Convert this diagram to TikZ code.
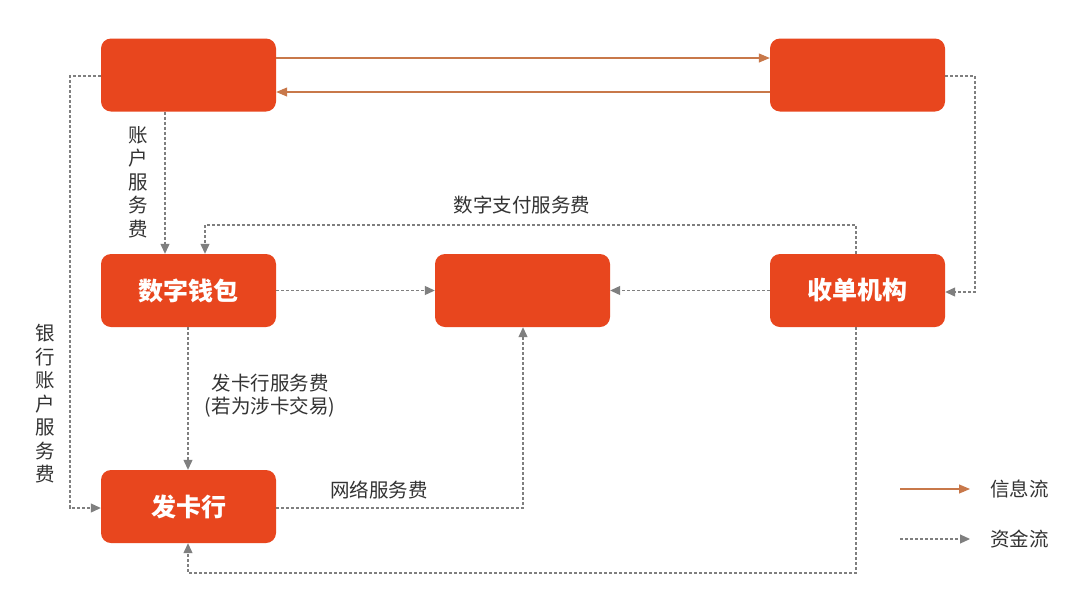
\documentclass[tikz,border=0pt]{standalone}
\usepackage{fontspec}
\setmainfont{Noto Sans CJK SC}
\usetikzlibrary{arrows.meta}
\definecolor{boxred}{HTML}{E8461E}
\definecolor{infoc}{HTML}{C8784A}
\definecolor{fundc}{HTML}{7F7F7F}
\definecolor{txtc}{HTML}{333333}
\begin{document}
\begin{tikzpicture}[x=1pt,y=-1pt,
  box/.style={draw=none,fill=boxred,rounded corners=10pt,minimum width=175pt,minimum height=73pt,text=white,font=\fontsize{25}{28}\selectfont\bfseries,inner sep=0pt},
  info/.style={draw=infoc,line width=1.1pt,-{Triangle[length=11pt,width=9pt]}},
  fund/.style={draw=fundc,line width=1.1pt,dash pattern=on 3pt off 2pt,-{Triangle[length=10pt,width=9pt]}},
  lab/.style={text=txtc,font=\fontsize{19.5}{23}\selectfont,inner sep=0pt},
  vlab/.style={text=txtc,font=\fontsize{19.5}{23.5}\selectfont,inner sep=0pt,align=center}]
\useasboundingbox (0,0) rectangle (1080,598);
\fill[white] (0,0) rectangle (1080,598);
% boxes
\node[box] (tl) at (188.5,75) {};
\node[box] (tr) at (857.5,75) {};
\node[box] (wal) at (188.5,290.5) {数字钱包};
\node[box] (cen) at (522.5,290.5) {};
\node[box] (acq) at (857.5,290.5) {收单机构};
\node[box] (iss) at (188.5,506.5) {发卡行};
% info flows
\draw[info] (tl.east |- 0,58) -- (tr.west |- 0,58);
\draw[info] (tr.west |- 0,92) -- (tl.east |- 0,92);
% fund flows
\draw[fund] (tl.west |- 0,76) -- (70,76) -- (70,508) -- (iss.west |- 0,508);
\draw[fund] (tl.south -| 165,0) -- (wal.north -| 165,0);
\draw[fund] (acq.north -| 856,0) -- (856,225) -- (205,225) -- (wal.north -| 205,0);
\draw[fund] (wal.east) -- (cen.west);
\draw[fund] (acq.west) -- (cen.east);
\draw[fund] (tr.east |- 0,76) -- (975,76) -- (975,292) -- (acq.east |- 0,292);
\draw[fund] (wal.south -| 188,0) -- (iss.north -| 188,0);
\draw[fund] (iss.east |- 0,508) -- (523,508) -- (cen.south -| 523,0);
\draw[fund] (acq.south -| 856,0) -- (856,573) -- (188,573) -- (iss.south -| 188,0);
% labels
\node[vlab] (l1) at (138,182) {账\\户\\服\\务\\费};
\node[vlab] (l2) at (45,404) {银\\行\\账\\户\\服\\务\\费};
\node[lab] (l3) at (522,205) {数字支付服务费};
\node[lab,align=center] (l4) at (270,396) {发卡行服务费\\(若为涉卡交易)};
\node[lab] (l5) at (379,490) {网络服务费};
% legend
\coordinate (la1) at (900,489);
\coordinate (la2) at (970,489);
\coordinate (lb1) at (900,539);
\coordinate (lb2) at (970,539);
\draw[info] (la1) -- (la2);
\draw[fund] (lb1) -- (lb2);
\node[lab,anchor=west] (lg1) at (990,489) {信息流};
\node[lab,anchor=west] (lg2) at (990,539) {资金流};
\end{tikzpicture}
\end{document}
